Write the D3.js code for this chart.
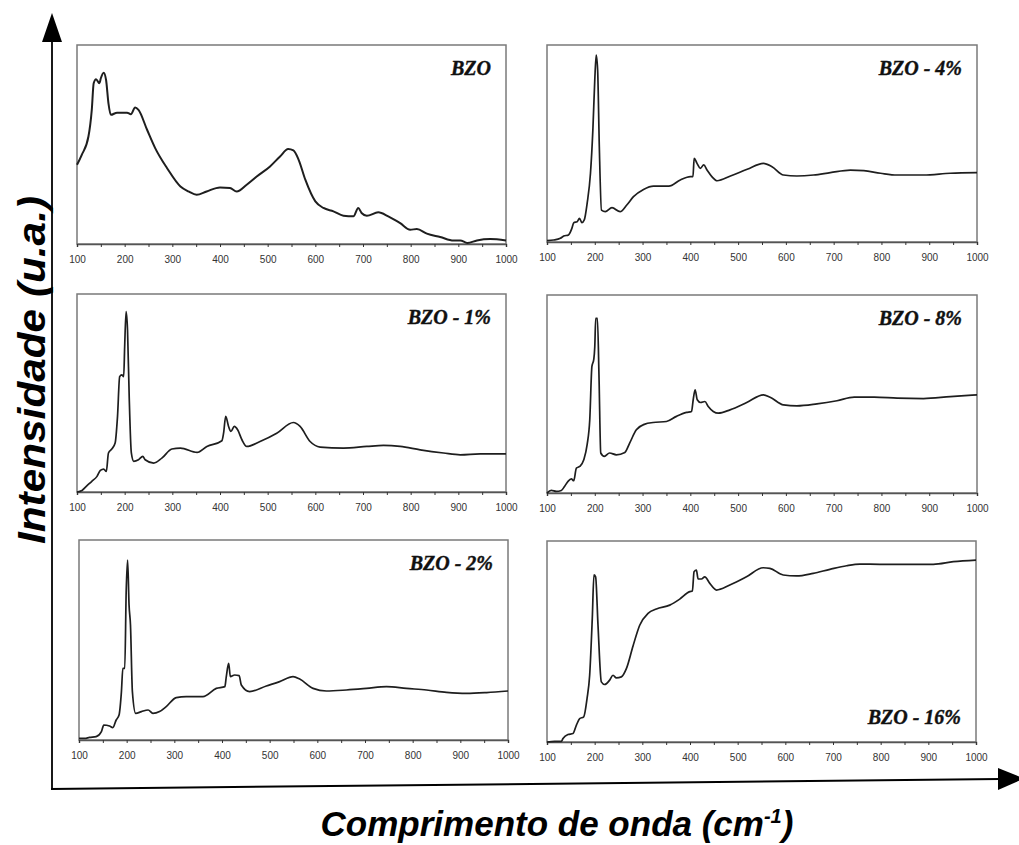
<!DOCTYPE html>
<html>
<head>
<meta charset="utf-8">
<script src="https://cdn.jsdelivr.net/npm/d3@7"></script>
<style>
    body { margin: 0; background: #fff; }
    svg { display: block; }
</style>
</head>
<body>
<div id="chart"></div>
<script>
// Raman spectra, wavenumber (cm-1) vs intensity (a.u., 0-100 of panel height)
const tickValues = [100, 200, 300, 400, 500, 600, 700, 800, 900, 1000];
const minorTicks = [150, 250, 350, 450, 550, 650, 750, 850, 950];
const sampleNames = ['BZO', 'BZO - 4%', 'BZO - 1%', 'BZO - 8%', 'BZO - 2%', 'BZO - 16%'];

const bzoX = [100, 110, 124, 131, 135, 140, 147, 150, 156, 161, 166, 171, 184, 205, 213, 222, 229, 247, 264, 289, 317, 334, 351, 372, 400, 421, 435, 456, 477, 505, 526, 543, 554, 565, 579, 600, 617, 638, 659, 680, 690, 697, 708, 732, 753, 778, 799, 813, 834, 862, 890, 904, 919, 939, 967, 1000];
const bzoY = [39.8, 44.8, 54, 67.4, 80.8, 82.8, 80.8, 83.3, 86.1, 82.4, 70.7, 64.9, 66, 66, 65.2, 68.6, 67.4, 57.4, 48.2, 38.1, 28.9, 26.4, 24.7, 26.4, 28.4, 28.1, 26.4, 29.8, 33.9, 39, 44, 47.7, 47, 42.3, 32.3, 21.4, 18.1, 16.4, 14.2, 13.9, 18.1, 15.6, 14.2, 15.9, 13.9, 10.5, 7.2, 7.5, 5.2, 3.5, 1.7, 1.8, 0.5, 1.8, 2.5, 1.8];

const bzo4X = [100, 114, 128, 135, 145, 152, 156, 163, 168, 173, 178, 184, 191, 196, 200, 203, 206, 209.5, 214, 222, 236, 253, 267, 281, 302, 323, 355, 379, 400, 405.5, 408, 414, 421, 428, 435, 445, 456, 484, 519, 553, 571, 595, 623, 658, 693, 735, 763, 798, 833, 888, 944, 1000];
const bzo4Y = [0.7, 1, 1.9, 3, 3.6, 6.9, 9.8, 10.3, 12, 9.8, 11.2, 19.6, 34.9, 56.9, 82.2, 94.9, 87.3, 48.4, 16.2, 15.4, 17.4, 15.4, 18.8, 23, 26.7, 28.4, 28.4, 31.5, 33.2, 33.2, 42.5, 39.9, 37.4, 39.1, 36.5, 33.2, 31.1, 33.5, 36.9, 39.9, 38.2, 34, 33.5, 34, 35.2, 36.5, 36.2, 34.9, 34, 34, 34.9, 35.2];

const bzo1X = [100, 110.5, 121, 131, 142, 149, 156, 161.5, 166, 173, 180, 185, 189.5, 194, 198, 200, 203, 206, 209.5, 214, 219, 229, 238, 243, 261, 278, 299, 317, 352, 372.5, 404, 407.5, 412, 418, 423, 430, 437, 446, 456, 484, 519, 554, 568, 589, 610, 659, 708, 743, 778, 820, 869, 904, 946, 1000];
const bzo1Y = [0, 0.8, 3.2, 5.4, 7.9, 10.9, 11.6, 10.4, 19.7, 21.7, 24.7, 38.2, 58.3, 59.2, 58.3, 73.4, 91.1, 81.8, 48.2, 19.7, 15.5, 16.3, 18, 16.3, 14.6, 17.1, 21.7, 22.2, 20, 23, 25.9, 29.7, 38.2, 33.1, 30.6, 33.1, 31.4, 26.4, 23, 25.5, 29.7, 35.1, 33.1, 25.5, 22.7, 22.2, 23, 23.5, 23, 21.3, 19.7, 18.8, 19.3, 19.3];

const bzo8X = [100, 109, 119.5, 130, 137, 144, 151, 156, 161.5, 168.5, 177, 184, 189.5, 194, 198, 200, 202, 205.5, 209, 212.5, 220, 231, 245, 263, 273, 287, 305, 322, 350, 371, 392, 402.5, 406, 410, 414.5, 421.5, 430.5, 437.5, 448, 458.5, 483, 518, 553, 567, 595, 623, 665, 707, 743, 785, 833, 888, 944, 1000];
const bzo8Y = [0, 1.3, 0.8, 1.3, 3.4, 5.9, 7.1, 6.2, 12.6, 13.4, 16.8, 24.4, 37, 63.9, 67.6, 73.9, 88.2, 88.2, 57.1, 20.2, 18.5, 20.2, 19.3, 20.5, 25.2, 31.9, 34.8, 35.6, 36.1, 38.7, 40.7, 41.2, 47.1, 52.1, 47.1, 45.7, 46.2, 43.7, 41.2, 40.3, 42, 45.7, 49.6, 48.4, 44.5, 44, 45, 46.6, 48.4, 48.4, 47.9, 47.7, 48.7, 49.6];

const bzo2X = [100, 112, 122, 136, 147, 152, 164, 171, 178, 184, 189, 192, 196, 199, 202, 205, 208, 212, 219, 231, 245, 255, 269, 283, 304, 325, 360, 388, 406, 409, 414, 417.5, 426.5, 436, 440.5, 458, 493, 521, 549, 563, 591, 619, 661, 703, 745, 787, 829, 871, 913, 955, 1000];
const bzo2Y = [0.8, 0.8, 1.3, 1.7, 4.2, 7.5, 7, 6.2, 10, 12.5, 24.2, 35.8, 35.8, 74.2, 90, 67.5, 57.5, 24.2, 13.3, 14.2, 15, 13.3, 14.2, 16.7, 21.2, 21.7, 21.7, 25.8, 26.7, 31.7, 38.3, 31.7, 32.5, 32.2, 27.5, 24.2, 27, 29.2, 31.7, 30.5, 25.8, 24.5, 25, 25.8, 26.7, 25.8, 25, 23.8, 23.3, 23.7, 24.5];

const bzo16X = [100, 116, 130, 133.5, 144, 154.5, 161.5, 168.5, 177, 184, 189.5, 195, 198.5, 202, 207, 214, 221, 231.5, 238.5, 245.5, 256, 266.5, 280.5, 294.5, 312, 329.5, 357.5, 378.5, 399.5, 405, 408.5, 413.5, 417, 424, 431, 441.5, 455.5, 483.5, 518.5, 553.5, 567.5, 595.5, 623.5, 658.5, 693.5, 728.5, 756.5, 798.5, 847.5, 910.5, 952.5, 1000];
const bzo16Y = [0, 0.3, 0.3, 1.7, 3.7, 4.2, 8.3, 11.6, 12.5, 21.6, 33.2, 61.5, 83.1, 82.2, 58.1, 29.9, 28.6, 30.8, 33.2, 31.9, 32.4, 36.5, 47.8, 58.1, 64, 66.2, 68.1, 71.1, 74.8, 75.1, 84.7, 85.5, 81.1, 81.1, 82.2, 78.9, 75.6, 78.1, 82.2, 86.7, 86.4, 83.1, 82.6, 83.9, 85.9, 87.7, 88.5, 88.4, 88.4, 88.4, 89.7, 90.5];

const seriesX = [bzoX, bzo4X, bzo1X, bzo8X, bzo2X, bzo16X];
const seriesY = [bzoY, bzo4Y, bzo1Y, bzo8Y, bzo2Y, bzo16Y];

// panel frames in page pixels
const frames = [
    { left: 77, top: 45, right: 506, bottom: 244, labelBottom: false },
    { left: 547, top: 45, right: 977, bottom: 242, labelBottom: false },
    { left: 77, top: 294, right: 506, bottom: 492, labelBottom: false },
    { left: 547, top: 295, right: 977, bottom: 493, labelBottom: false },
    { left: 79, top: 540, right: 508, bottom: 740, labelBottom: false },
    { left: 547, top: 541, right: 976, bottom: 742, labelBottom: true }
];

const width = 1019;
const height = 845;

const svg = d3.select('#chart')
    .append('svg')
    .attr('width', width)
    .attr('height', height);

frames.forEach((f, i) => {
    const w = f.right - f.left;
    const h = f.bottom - f.top;
    const g = svg.append('g').attr('transform', `translate(${f.left}, ${f.top})`);

    const x = d3.scaleLinear().domain([100, 1000]).range([0, w]);
    const y = d3.scaleLinear().domain([0, 100]).range([h, 0]);

    // frame
    g.append('rect')
        .attr('width', w)
        .attr('height', h)
        .attr('fill', '#fff')
        .attr('stroke', '#7a7a7a')
        .attr('stroke-width', 1.5);

    // bottom axis, major + minor ticks
    const axis = g.append('g')
        .attr('transform', `translate(0, ${h})`)
        .call(d3.axisBottom(x).tickValues(tickValues).tickSize(3).tickPadding(9).tickFormat(d3.format('d')));
    axis.select('.domain').attr('stroke', '#555').attr('stroke-width', 1.5);
    axis.selectAll('.tick line').attr('stroke', '#333');
    axis.selectAll('.tick text')
        .style('font-family', 'Liberation Sans, Arial, sans-serif')
        .style('font-size', '10px')
        .attr('fill', '#333');

    g.append('g')
        .attr('transform', `translate(0, ${h})`)
        .call(d3.axisBottom(x).tickValues(minorTicks).tickSize(3).tickFormat(''))
        .call(a => a.select('.domain').remove())
        .selectAll('.tick line').attr('stroke', '#333');

    // spectrum
    const pts = seriesX[i].map((v, j) => [v, seriesY[i][j]]);
    const line = d3.line()
        .x(d => x(d[0]))
        .y(d => y(d[1]))
        .curve(d3.curveMonotoneX);

    g.append('path')
        .datum(pts)
        .attr('d', line)
        .attr('fill', 'none')
        .attr('stroke', '#1e1e1e')
        .attr('stroke-width', i === 0 ? 2 : 1.7)
        .attr('stroke-linejoin', 'round');

    // sample label
    g.append('text')
        .attr('x', w - 15)
        .attr('y', f.labelBottom ? h - 18 : 30)
        .attr('text-anchor', 'end')
        .style('font-family', 'Liberation Serif, Times New Roman, serif')
        .style('font-weight', 'bold')
        .style('font-style', 'italic')
        .style('font-size', '20px')
        .attr('fill', '#111')
        .attr('stroke', '#111')
        .attr('stroke-width', 0.4)
        .text(sampleNames[i]);
});

// big axis arrows
svg.append('line')
    .attr('x1', 52).attr('y1', 789)
    .attr('x2', 52).attr('y2', 38)
    .attr('stroke', '#000').attr('stroke-width', 1.8);
svg.append('path')
    .attr('d', 'M52,13 L62,42 L42,42 Z')
    .attr('fill', '#000');

svg.append('line')
    .attr('x1', 51).attr('y1', 789)
    .attr('x2', 1000).attr('y2', 779)
    .attr('stroke', '#000').attr('stroke-width', 2);
svg.append('path')
    .attr('d', 'M1024,778.5 L998,768 L998,790 Z')
    .attr('fill', '#000');

// axis titles
svg.append('text')
    .attr('transform', 'translate(45, 370) rotate(-90)')
    .attr('text-anchor', 'middle')
    .attr('textLength', 348)
    .attr('lengthAdjust', 'spacingAndGlyphs')
    .style('font-family', 'Liberation Sans, Arial, sans-serif')
    .style('font-weight', 'bold')
    .style('font-style', 'italic')
    .style('font-size', '38px')
    .attr('fill', '#000')
    .text('Intensidade (u.a.)');

const xt = svg.append('text')
    .attr('x', 557)
    .attr('y', 836)
    .attr('text-anchor', 'middle')
    .style('font-family', 'Liberation Sans, Arial, sans-serif')
    .style('font-weight', 'bold')
    .style('font-style', 'italic')
    .style('font-size', '35px')
    .attr('fill', '#000');
xt.append('tspan').text('Comprimento de onda (cm');
xt.append('tspan').attr('dy', -13).style('font-size', '20px').text('-1');
xt.append('tspan').attr('dy', 13).text(')');
</script>
</body>
</html>
